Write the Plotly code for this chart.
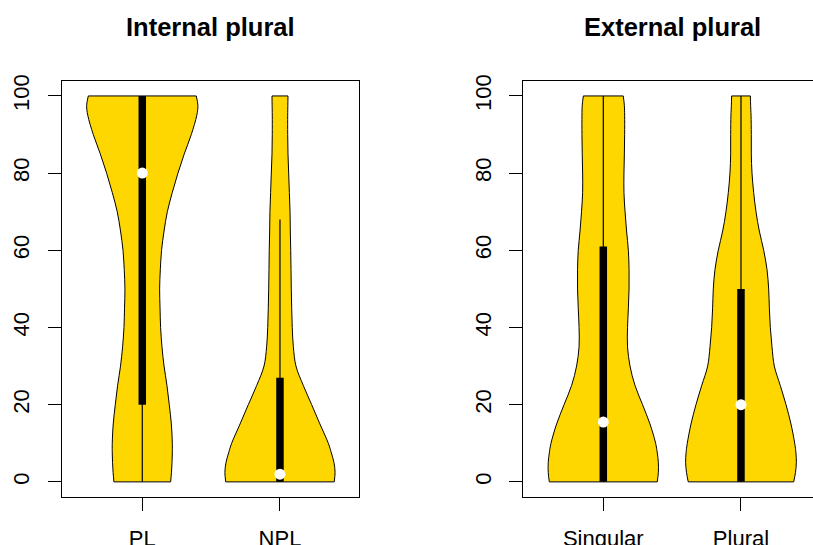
import plotly.graph_objects as go

# ---------------- data ----------------
y_grid = [0, 2.5, 5, 7.5, 10, 15, 20, 25, 30, 35, 40, 45, 50, 55, 60, 65, 70, 75, 80, 85, 90, 95, 97.5, 100]

internal_categories = ["PL", "NPL"]
external_categories = ["Singular", "Plural"]

# density half-widths (x units) at y_grid
pl_halfwidth = [0.206, 0.212, 0.216, 0.218, 0.218, 0.211, 0.196, 0.179, 0.158, 0.143, 0.133, 0.129, 0.126,
                0.131, 0.140, 0.158, 0.182, 0.218, 0.259, 0.305, 0.356, 0.396, 0.404, 0.392]
npl_halfwidth = [0.394, 0.400, 0.392, 0.373, 0.351, 0.290, 0.230, 0.169, 0.116, 0.097, 0.089, 0.085, 0.082,
                 0.080, 0.078, 0.075, 0.073, 0.068, 0.063, 0.058, 0.056, 0.056, 0.057, 0.058]
singular_halfwidth = [0.392, 0.400, 0.400, 0.392, 0.380, 0.339, 0.285, 0.230, 0.194, 0.176, 0.176, 0.182, 0.187,
                      0.187, 0.182, 0.169, 0.158, 0.150, 0.150, 0.153, 0.155, 0.155, 0.153, 0.145]
plural_halfwidth = [0.383, 0.396, 0.402, 0.399, 0.390, 0.363, 0.327, 0.285, 0.242, 0.225, 0.213, 0.206, 0.201,
                    0.189, 0.165, 0.133, 0.109, 0.092, 0.080, 0.075, 0.075, 0.073, 0.070, 0.068]

internal_q1 = [20, 0]
internal_q3 = [100, 27]
internal_wlo = [0, 0]
internal_whi = [100, 68]
internal_median = [80, 2]

external_q1 = [0, 0]
external_q3 = [61, 50]
external_wlo = [0, 0]
external_whi = [100, 100]
external_median = [15.5, 20]

y_ticks = [0, 20, 40, 60, 80, 100]

GOLD = "#FFD700"
W, H = 813, 545

fig = go.Figure()


def add_violin(center, halfwidth, q1, q3, wlo, whi, med, xa, ya):
    left = [center - h for h in halfwidth]
    right = [center + h for h in halfwidth]
    common = dict(xaxis=xa, yaxis=ya, showlegend=False, hoverinfo="skip", mode="lines")
    fig.add_trace(go.Scatter(x=left, y=y_grid, line=dict(color="black", width=1, shape="spline"), **common))
    fig.add_trace(go.Scatter(x=right, y=y_grid, fill="tonextx", fillcolor=GOLD,
                             line=dict(color="black", width=1, shape="spline"), **common))
    # flat caps at bottom and top
    fig.add_trace(go.Scatter(x=[left[0], right[0], None, left[-1], right[-1]],
                             y=[y_grid[0], y_grid[0], None, y_grid[-1], y_grid[-1]],
                             line=dict(color="black", width=1), **common))
    # whisker
    fig.add_trace(go.Scatter(x=[center, center], y=[wlo, whi], line=dict(color="black", width=1.2), **common))
    # box
    fig.add_trace(go.Scatter(x=[center, center], y=[q1, q3], line=dict(color="black", width=7.5), **common))
    # median
    fig.add_trace(go.Scatter(x=[center], y=[med], mode="markers", xaxis=xa, yaxis=ya, showlegend=False,
                             hoverinfo="skip", marker=dict(color="white", size=11, line=dict(width=0))))


internal_hw = [pl_halfwidth, npl_halfwidth]
for i in range(2):
    add_violin(i + 1, internal_hw[i], internal_q1[i], internal_q3[i], internal_wlo[i], internal_whi[i],
               internal_median[i], "x", "y")

external_hw = [singular_halfwidth, plural_halfwidth]
for i in range(2):
    add_violin(i + 1, external_hw[i], external_q1[i], external_q3[i], external_wlo[i], external_whi[i],
               external_median[i], "x2", "y2")

FONT = "Liberation Sans, Arial, sans-serif"
tickfont = dict(family=FONT, size=22, color="black")
ydom = [1 - 497.3 / H, 1 - 80.5 / H]

axis_common = dict(showgrid=False, zeroline=False, showline=True, linecolor="black", linewidth=1,
                   ticks="outside", ticklen=13, tickcolor="black", tickwidth=1, tickfont=tickfont,
                   automargin=False, fixedrange=True)

fig.update_layout(
    width=W, height=H,
    margin=dict(l=0, r=0, t=0, b=0),
    paper_bgcolor="white", plot_bgcolor="white",
    xaxis=dict(domain=[62 / W, 359.3 / W], range=[0.417, 2.576], tickvals=[1, 2],
               ticktext=internal_categories, mirror=True, anchor="y", ticklabelstandoff=8, **axis_common),
    yaxis=dict(domain=ydom, range=[-4, 104], tickvals=y_ticks, tickangle=-90, mirror=True, anchor="x",
               ticklabelstandoff=10, **axis_common),
    xaxis2=dict(domain=[523.3 / W, 1.0], range=[0.419, 2.523], tickvals=[1, 2],
                ticktext=external_categories, mirror=True, anchor="y2", ticklabelstandoff=8, **axis_common),
    yaxis2=dict(domain=ydom, range=[-4, 104], tickvals=y_ticks, tickangle=-90, mirror=False, anchor="x2",
                ticklabelstandoff=10, **axis_common),
    annotations=[
        dict(text="<b>Internal plural</b>", x=211 / W, y=1 - 27 / H, xref="paper", yref="paper",
             xanchor="center", yanchor="middle", showarrow=False,
             font=dict(family=FONT, size=25.5, color="black")),
        dict(text="<b>External plural</b>", x=672 / W, y=1 - 27 / H, xref="paper", yref="paper",
             xanchor="center", yanchor="middle", showarrow=False,
             font=dict(family=FONT, size=25.5, color="black")),
    ],
)

fig.write_html("out.html", config={"displayModeBar": False},
               post_script="document.body.style.margin='0px';document.body.style.overflow='hidden';")
